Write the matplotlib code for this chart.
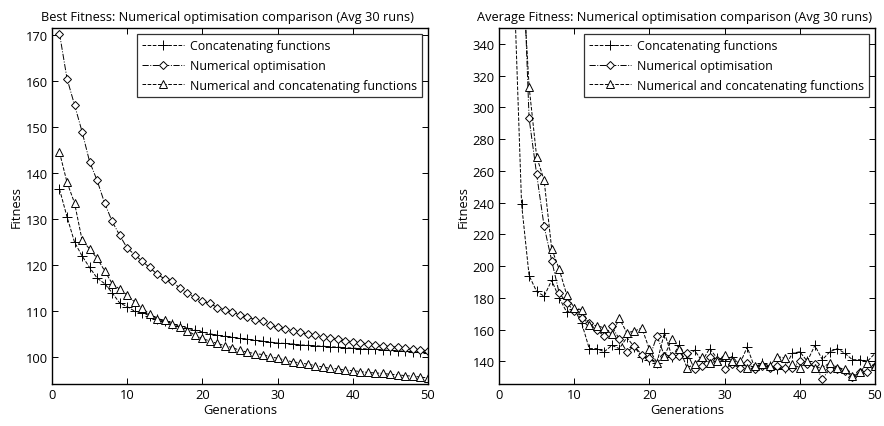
import matplotlib
matplotlib.use("Agg")
import matplotlib.pyplot as plt
import numpy as np

plt.rcParams['font.family'] = ['Open Sans', 'DejaVu Sans']
plt.rcParams['font.size'] = 9

generations = np.arange(1, 51)

# Best fitness (left panel)
best_concat = [136.5, 130.5, 125.0, 122.0, 119.5, 117.2, 116.0, 114.0, 111.8, 111.0,
               110.0, 109.7, 109.0, 108.3, 107.8, 107.3, 106.8, 106.3, 105.9, 105.5,
               105.1, 104.8, 104.6, 104.3, 104.1, 103.9, 103.7, 103.5, 103.3, 103.1,
               103.0, 102.9, 102.7, 102.6, 102.5, 102.4, 102.3, 102.2, 102.1, 102.0,
               101.9, 101.8, 101.7, 101.6, 101.5, 101.4, 101.3, 101.2, 101.1, 101.0]
best_numopt = [170.3, 160.5, 154.8, 149.0, 142.5, 138.4, 133.5, 129.5, 126.5, 123.7,
               122.3, 120.8, 119.5, 118.0, 117.0, 116.5, 115.0, 114.0, 113.0, 112.2,
               111.7, 110.8, 110.3, 109.8, 109.2, 108.7, 108.2, 107.8, 107.1, 106.5,
               106.2, 105.8, 105.4, 105.0, 104.8, 104.5, 104.2, 103.9, 103.6, 103.4,
               103.1, 102.9, 102.7, 102.5, 102.3, 102.2, 102.0, 101.8, 101.6, 101.4]
best_both = [144.5, 138.0, 133.5, 125.5, 123.5, 121.5, 118.8, 116.0, 114.8, 113.5,
             112.0, 110.7, 109.3, 108.4, 108.0, 107.3, 106.6, 105.8, 104.8, 104.1,
             103.5, 103.0, 102.5, 102.1, 101.5, 101.1, 100.8, 100.6, 100.1, 99.8,
             99.4, 99.0, 98.8, 98.5, 98.2, 97.9, 97.6, 97.5, 97.2, 97.1,
             96.9, 96.7, 96.6, 96.5, 96.3, 96.2, 96.0, 95.9, 95.7, 95.5]

# Average fitness (right panel)
avg_concat = [700.0, 378.0, 239.0, 194.0, 184.0, 181.0, 191.0, 180.0, 171.0, 173.0,
              164.0, 148.0, 148.0, 146.0, 150.0, 148.0, 155.0, 149.0, 143.0, 141.0,
              139.0, 158.0, 143.0, 150.0, 142.0, 147.0, 140.0, 148.0, 142.0, 140.0,
              143.0, 138.0, 149.0, 136.0, 139.0, 137.0, 135.0, 136.0, 145.0, 146.0,
              140.0, 150.0, 141.0, 146.0, 148.0, 145.0, 141.0, 141.0, 140.0, 145.0]
avg_numopt = [900.0, 600.0, 420.0, 293.0, 258.0, 225.0, 203.5, 183.0, 177.0, 171.5,
              167.0, 164.0, 159.5, 156.0, 162.0, 154.0, 146.0, 149.5, 144.0, 142.0,
              156.0, 143.5, 143.5, 143.5, 145.5, 135.0, 137.0, 143.0, 141.0, 135.0,
              138.0, 136.0, 139.0, 135.0, 137.0, 136.0, 137.0, 136.0, 136.0, 140.0,
              138.0, 138.0, 129.0, 135.0, 135.0, 134.0, 130.0, 133.0, 133.0, 137.0]
avg_both = [850.0, 560.0, 395.0, 313.0, 269.0, 254.0, 211.0, 198.0, 182.0, 173.5,
            172.5, 163.0, 162.5, 161.0, 157.0, 167.0, 158.0, 159.0, 161.0, 147.5,
            139.0, 143.5, 154.0, 148.0, 136.0, 138.0, 143.0, 139.0, 140.0, 144.0,
            140.0, 140.0, 136.0, 137.0, 138.0, 137.0, 143.0, 142.0, 138.0, 136.0,
            140.0, 136.0, 136.0, 139.0, 136.0, 135.0, 131.0, 133.0, 139.0, 137.0]

labels = ['Concatenating functions', 'Numerical optimisation',
          'Numerical and concatenating functions']


def draw_panel(ax, series, title, ylim, yticks):
    styles = [('--', '+', 6.5), ('-.', 'D', 4.2), ('--', '^', 5.5)]
    for ys, lab, (ls, mk, ms) in zip(series, labels, styles):
        ax.plot(generations, ys, color='black', linestyle=ls, linewidth=0.7,
                marker=mk, markersize=ms, markerfacecolor='white',
                markeredgecolor='black', markeredgewidth=0.7, label=lab)
    ax.set_xlim(0, 50)
    ax.set_ylim(*ylim)
    ax.set_xticks([0, 10, 20, 30, 40, 50])
    ax.set_yticks(yticks)
    ax.tick_params(direction='in', top=True, right=True, length=4, width=0.7,
                   labelsize=9.3, pad=3)
    for sp in ax.spines.values():
        sp.set_linewidth(1.0)
    # MATLAB puts the title a little left of centre
    ax.set_title(title, fontsize=9.2, pad=6, x=0.467)
    ax.set_xlabel('Generations', fontsize=9.3, labelpad=1)
    ax.set_ylabel('Fitness', fontsize=9.3, labelpad=2)
    leg = ax.legend(loc='upper right', fontsize=8.9, frameon=True, fancybox=False,
                    edgecolor='black', handlelength=3.4, handletextpad=0.5,
                    borderpad=0.4, labelspacing=0.55, borderaxespad=0.5)
    leg.get_frame().set_linewidth(0.9)


fig = plt.figure(figsize=(8.84, 4.27), dpi=100)
ax1 = fig.add_axes([0.0588, 0.0984, 0.4253, 0.8337])
ax2 = fig.add_axes([0.5645, 0.0984, 0.4253, 0.8337])

draw_panel(ax1, [best_concat, best_numopt, best_both],
           'Best Fitness: Numerical optimisation comparison (Avg 30 runs)',
           (94.2, 171.5), np.arange(100, 171, 10))
draw_panel(ax2, [avg_concat, avg_numopt, avg_both],
           'Average Fitness: Numerical optimisation comparison (Avg 30 runs)',
           (125.7, 350), np.arange(140, 341, 20))

fig.savefig('out.png', dpi=100)
